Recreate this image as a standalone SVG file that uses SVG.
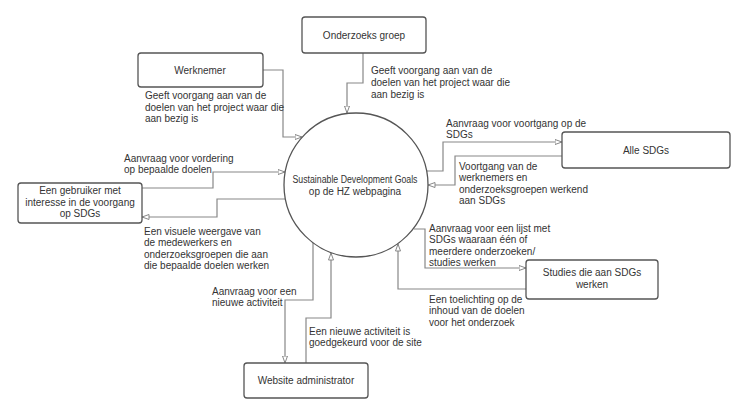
<svg xmlns="http://www.w3.org/2000/svg" width="748" height="416" viewBox="0 0 748 416">
<defs>
<marker id="arr" viewBox="0 0 8 6" refX="7.5" refY="3" markerWidth="8" markerHeight="6" markerUnits="userSpaceOnUse" orient="auto">
<path d="M0.5,0.5 L7.5,3 L0.5,5.5 Z" fill="#fff" stroke="#888" stroke-width="1"/>
</marker>
<style>
.box{fill:#fff;stroke:#555;stroke-width:1.3}
.c{fill:none;stroke:#888;stroke-width:1.2;marker-end:url(#arr)}
text{font-family:"Liberation Sans",Arial,sans-serif;font-size:10px;fill:#333}
.m{text-anchor:middle}
</style>
</defs>
<rect width="748" height="416" fill="#fff"/>
<g id="connectors">
<path class="c" d="M263,70 H283 V137 H302"/>
<path class="c" d="M363,53 V83 H347 V113"/>
<path class="c" d="M142,188 H213 V172 H285"/>
<path class="c" d="M285,199 H217 V217 H142"/>
<path class="c" d="M426,171 H443 V142 H562"/>
<path class="c" d="M562,156 H455 V185 H428"/>
<path class="c" d="M414,229 H425 V268 H526"/>
<path class="c" d="M526,289 H398 V244"/>
<path class="c" d="M313,243 V300 H285 V363"/>
<path class="c" d="M306,363 V318 H331 V253"/>
</g>
<g id="center">
<circle cx="356" cy="185" r="72" fill="#fff" stroke="#555" stroke-width="1.3"/>
<text class="m" x="355" y="183" font-size="8.6" textLength="125" lengthAdjust="spacingAndGlyphs">Sustainable Development Goals</text>
<text class="m" x="355" y="194.5" font-size="8.6">op de HZ webpagina</text>
</g>
<g id="onderzoeksgroep">
<rect class="box" x="302" y="17" width="124" height="36" rx="3"/>
<text class="m" x="364" y="39">Onderzoeks groep</text>
</g>
<g id="werknemer">
<rect class="box" x="138" y="53" width="125" height="34" rx="3"/>
<text class="m" x="200" y="74">Werknemer</text>
</g>
<g id="gebruiker">
<rect class="box" x="18" y="183" width="124" height="40" rx="3"/>
<text class="m" x="80" y="194">Een gebruiker met</text>
<text class="m" x="80" y="206">interesse in de voorgang</text>
<text class="m" x="80" y="217">op SDGs</text>
</g>
<g id="allesdgs">
<rect class="box" x="562" y="132" width="168" height="36" rx="3"/>
<text class="m" x="646" y="154">Alle SDGs</text>
</g>
<g id="studies">
<rect class="box" x="526" y="260" width="132" height="39" rx="3"/>
<text class="m" x="592" y="276">Studies die aan SDGs</text>
<text class="m" x="592" y="288">werken</text>
</g>
<g id="admin">
<rect class="box" x="244" y="363" width="124" height="35" rx="3"/>
<text class="m" x="306" y="384">Website administrator</text>
</g>
<g id="labels">
<text x="145" y="99">Geeft voorgang aan van de</text>
<text x="145" y="110.5">doelen van het project waar die</text>
<text x="145" y="122">aan bezig is</text>
<text x="371" y="74">Geeft voorgang aan van de</text>
<text x="371" y="86">doelen van het project waar die</text>
<text x="371" y="98">aan bezig is</text>
<text x="124" y="161.5">Aanvraag voor vordering</text>
<text x="124" y="173">op bepaalde doelen</text>
<text x="144" y="234.5">Een visuele weergave van</text>
<text x="144" y="246">de medewerkers en</text>
<text x="144" y="257.5">onderzoeksgroepen die aan</text>
<text x="144" y="269">die bepaalde doelen werken</text>
<text x="446" y="126.5">Aanvraag voor voortgang op de</text>
<text x="446" y="138">SDGs</text>
<text x="459" y="169.5">Voortgang van de</text>
<text x="459" y="181">werknemers en</text>
<text x="459" y="192.5">onderzoeksgroepen werkend</text>
<text x="459" y="204">aan SDGs</text>
<text x="429" y="231.5">Aanvraag voor een lijst met</text>
<text x="429" y="243">SDGs waaraan één of</text>
<text x="429" y="254.5">meerdere onderzoeken/</text>
<text x="429" y="266">studies werken</text>
<text x="429" y="302.5">Een toelichting op de</text>
<text x="429" y="314">inhoud van de doelen</text>
<text x="429" y="325.5">voor het onderzoek</text>
<text x="212" y="294.5">Aanvraag voor een</text>
<text x="212" y="306">nieuwe activiteit</text>
<text x="309" y="334.5">Een nieuwe activiteit is</text>
<text x="309" y="346">goedgekeurd voor de site</text>
</g>
</svg>
